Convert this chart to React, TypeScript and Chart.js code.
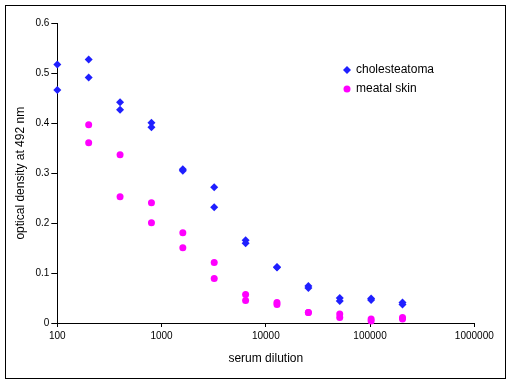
import React, { useEffect, useRef } from "react";
import { Chart, registerables } from "chart.js";

Chart.register(...registerables);

const dilutions = [100, 200, 400, 800, 1600, 3200, 6400, 12800, 25600, 51200, 102400, 204800];
const cholesteatomaA = [0.518, 0.528, 0.442, 0.401, 0.308, 0.272, 0.166, 0.112, 0.074, 0.05, 0.049, 0.041];
const cholesteatomaB = [0.467, 0.492, 0.427, 0.392, 0.305, 0.232, 0.16, 0.111, 0.07, 0.044, 0.046, 0.037];
const meatalSkinA = [null, 0.397, 0.337, 0.241, 0.181, 0.121, 0.057, 0.041, 0.021, 0.018, 0.008, 0.011];
const meatalSkinB = [null, 0.361, 0.253, 0.201, 0.151, 0.089, 0.045, 0.037, 0.021, 0.011, 0.004, 0.008];
const xTickValues = [100, 1000, 10000, 100000, 1000000];
const seriesNames = ["cholesteatoma", "meatal skin"];
const yTitle = "optical density at 492 nm";
const xTitle = "serum dilution";

const BLUE = "#1f1fff";
const MAGENTA = "#ff00ff";
const FONT = "'Liberation Sans', Arial, sans-serif";

function toPoints(a: (number | null)[], b: (number | null)[]) {
  const pts: { x: number; y: number }[] = [];
  dilutions.forEach((d, i) => {
    if (a[i] != null) pts.push({ x: d, y: a[i] as number });
    if (b[i] != null) pts.push({ x: d, y: b[i] as number });
  });
  return pts;
}

const framePlugin = {
  id: "frameAndLegend",
  afterDraw(chart: any) {
    const ctx = chart.ctx;
    ctx.save();
    ctx.strokeStyle = "#000";
    ctx.lineWidth = 1;
    ctx.strokeRect(5.5, 5.5, 500, 373);
    // legend
    const items = [
      { name: seriesNames[0], color: BLUE, style: "rectRot", r: 4 },
      { name: seriesNames[1], color: MAGENTA, style: "circle", r: 3.5 },
    ];
    ctx.font = `12px ${FONT}`;
    ctx.textBaseline = "middle";
    ctx.fillStyle = "#000";
    items.forEach((it, i) => {
      const y = 70 + i * 19;
      ctx.fillStyle = it.color;
      ctx.beginPath();
      if (it.style === "circle") {
        ctx.arc(347, y, it.r, 0, Math.PI * 2);
      } else {
        ctx.moveTo(347 - it.r, y);
        ctx.lineTo(347, y - it.r);
        ctx.lineTo(347 + it.r, y);
        ctx.lineTo(347, y + it.r);
        ctx.closePath();
      }
      ctx.fill();
      ctx.fillStyle = "#000";
      ctx.fillText(it.name, 356, y);
    });
    ctx.restore();
  },
};

export default function App() {
  const ref = useRef<HTMLCanvasElement>(null);
  useEffect(() => {
    if (!ref.current) return;
    const chart = new Chart(ref.current, {
      type: "scatter",
      data: {
        datasets: [
          {
            label: seriesNames[0],
            data: toPoints(cholesteatomaA, cholesteatomaB),
            pointStyle: "rectRot",
            pointRadius: 4,
            pointBorderWidth: 0,
            backgroundColor: BLUE,
            borderColor: BLUE,
            clip: false,
          },
          {
            label: seriesNames[1],
            data: toPoints(meatalSkinA, meatalSkinB),
            pointStyle: "circle",
            pointRadius: 3.5,
            pointBorderWidth: 0,
            backgroundColor: MAGENTA,
            borderColor: MAGENTA,
            clip: false,
          },
        ],
      },
      options: {
        responsive: false,
        animation: false,
        layout: { padding: { top: 23.5, right: 37.7, left: 0, bottom: 0 } },
        plugins: { legend: { display: false }, tooltip: { enabled: false } },
        scales: {
          x: {
            type: "logarithmic",
            min: 100,
            max: 1000000,
            afterBuildTicks: (scale: any) => {
              scale.ticks = xTickValues.map((v) => ({ value: v }));
            },
            afterFit: (scale: any) => {
              scale.height = 61;
            },
            ticks: {
              autoSkip: false,
              maxRotation: 0,
              padding: 3,
              color: "#000",
              font: { family: FONT, size: 10 },
              callback: (v: any) => String(v),
            },
            grid: { drawOnChartArea: false, drawTicks: true, tickLength: 4, color: "#000" },
            border: { display: true, color: "#000", width: 1 },
            title: {
              display: true,
              text: xTitle,
              color: "#000",
              font: { family: FONT, size: 12 },
              padding: { top: 0, bottom: 18.5 },
            },
          },
          y: {
            min: 0,
            max: 0.6,
            afterFit: (scale: any) => {
              scale.width = 57.3;
            },
            ticks: {
              stepSize: 0.1,
              padding: 2,
              color: "#000",
              font: { family: FONT, size: 10 },
              callback: (v: any) => String(Number(Number(v).toFixed(1))),
            },
            grid: { drawOnChartArea: false, drawTicks: true, tickLength: 6, color: "#000" },
            border: { display: true, color: "#000", width: 1 },
            title: {
              display: true,
              text: yTitle,
              color: "#000",
              font: { family: FONT, size: 12 },
              padding: { top: 13.5, bottom: 0 },
            },
          },
        },
      },
      plugins: [framePlugin],
    } as any);
    return () => chart.destroy();
  }, []);
  return (
    <div style={{ position: "fixed", left: 0, top: 0, width: 512, height: 384, background: "#fff" }}>
      <canvas ref={ref} width={512} height={384} style={{ display: "block" }} />
    </div>
  );
}
